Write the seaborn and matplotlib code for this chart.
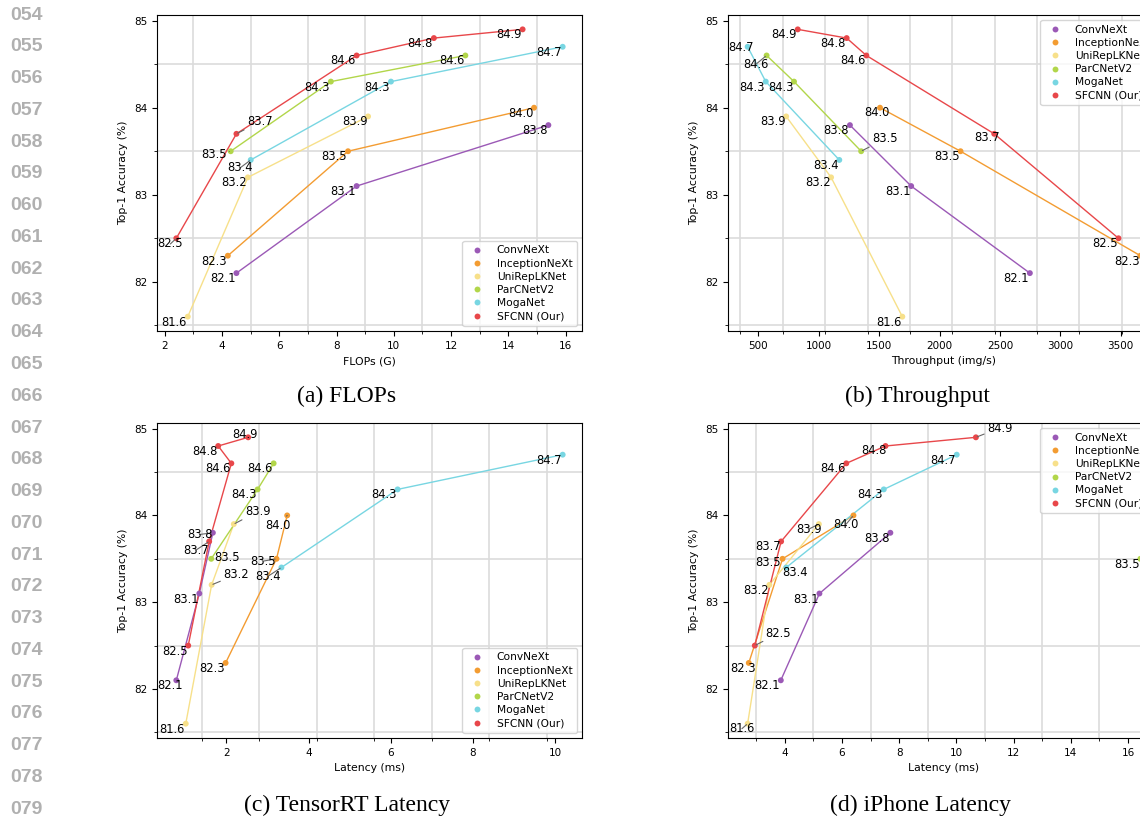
import numpy as np
import pandas as pd
import matplotlib
matplotlib.use('Agg')
import matplotlib.pyplot as plt
from matplotlib.ticker import MultipleLocator
import seaborn as sns

models = ['ConvNeXt', 'InceptionNeXt', 'UniRepLKNet', 'ParCNetV2', 'MogaNet', 'SFCNN (Our)']
colors = ['#9b59b6', '#f39c32', '#f7e08a', '#b2d64a', '#78d6e2', '#e8474a']

# top-1 accuracy, same for every panel
accuracy = {
    'ConvNeXt': [82.1, 83.1, 83.8],
    'InceptionNeXt': [82.3, 83.5, 84.0],
    'UniRepLKNet': [81.6, 83.2, 83.9],
    'ParCNetV2': [83.5, 84.3, 84.6],
    'MogaNet': [83.4, 84.3, 84.7],
    'SFCNN (Our)': [82.5, 83.7, 84.6, 84.8, 84.9],
}
flops = {
    'ConvNeXt': [4.5, 8.7, 15.4],
    'InceptionNeXt': [4.2, 8.4, 14.9],
    'UniRepLKNet': [2.8, 4.9, 9.1],
    'ParCNetV2': [4.3, 7.8, 12.5],
    'MogaNet': [5.0, 9.9, 15.9],
    'SFCNN (Our)': [2.4, 4.5, 8.7, 11.4, 14.5],
}
throughput = {
    'ConvNeXt': [2748, 1765, 1258],
    'InceptionNeXt': [3663, 2174, 1507],
    'UniRepLKNet': [1692, 1102, 730],
    'ParCNetV2': [1351, 795, 568],
    'MogaNet': [1170, 561, 411],
    'SFCNN (Our)': [3482, 2453, 1394, 1231, 826],
}
trt_latency = {
    'ConvNeXt': [0.78, 1.34, 1.67],
    'InceptionNeXt': [1.98, 3.22, 3.48],
    'UniRepLKNet': [1.01, 1.64, 2.18],
    'ParCNetV2': [1.63, 2.76, 3.15],
    'MogaNet': [3.34, 6.17, 10.19],
    'SFCNN (Our)': [1.07, 1.58, 2.12, 1.80, 2.53],
}
iphone_latency = {
    'ConvNeXt': [3.86, 5.21, 7.69],
    'InceptionNeXt': [2.74, 3.92, 6.40],
    'UniRepLKNet': [2.70, 3.46, 5.19],
    'ParCNetV2': [16.43, np.nan, np.nan],
    'MogaNet': [4.05, 7.46, 10.01],
    'SFCNN (Our)': [2.95, 3.87, 6.15, 7.52, 10.68],
}

# label placement: centre offset from point in pixels, and whether a leader line is drawn
default_off = (-13.5, 5.5, False)
offsets_a = {
    ('ParCNetV2', 0): (-17, 3, True),
    ('MogaNet', 0): (-10.7, 8, True),
    ('SFCNN (Our)', 0): (-6, 5.7, True),
    ('SFCNN (Our)', 1): (23.3, -12, True),
}
offsets_b = {
    ('InceptionNeXt', 2): (-3.3, 4.7, False),
    ('ParCNetV2', 2): (-11, 9, True),
    ('ParCNetV2', 0): (23.7, -12.3, True),
    ('MogaNet', 2): (-6.7, 1, False),
    ('SFCNN (Our)', 1): (-6.7, 3.7, False),
}
offsets_c = {
    ('SFCNN (Our)', 4): (-3.7, -3.3, False),
    ('SFCNN (Our)', 1): (-13.3, 8.7, True),
    ('ParCNetV2', 0): (15.7, -1.3, False),
    ('UniRepLKNet', 2): (23.7, -12.3, True),
    ('UniRepLKNet', 1): (24.3, -10, True),
    ('ConvNeXt', 2): (-13.3, 1.7, True),
    ('ConvNeXt', 0): (-6.7, 5.3, False),
    ('InceptionNeXt', 2): (-9.3, 10, True),
    ('InceptionNeXt', 1): (-13.3, 2.3, True),
    ('MogaNet', 0): (-13.3, 8.7, True),
}
offsets_d = {
    ('SFCNN (Our)', 4): (23.7, -9.3, True),
    ('SFCNN (Our)', 3): (-11.5, 4.3, False),
    ('SFCNN (Our)', 0): (23.7, -12.3, True),
    ('InceptionNeXt', 0): (-6, 5.3, False),
    ('InceptionNeXt', 1): (-14.3, 4, False),
    ('InceptionNeXt', 2): (-7.3, 8.7, True),
    ('UniRepLKNet', 0): (-5.7, 5, True),
    ('UniRepLKNet', 2): (-10, 5, True),
    ('MogaNet', 0): (9, 4.7, False),
}

W, H = 1140, 817
fig = plt.figure(figsize=(W / 100, H / 100), dpi=100)
palette = dict(zip(models, colors))


def make_frame(xs):
    rows = []
    for m in models:
        for i, (x, a) in enumerate(zip(xs[m], accuracy[m])):
            if x is None or np.isnan(x):
                continue
            rows.append({'model': m, 'idx': i, 'x': x, 'acc': a})
    return pd.DataFrame(rows)


def panel(rect, xs, xlabel, major, minor, offsets, legend_loc):
    ax = fig.add_axes([rect[0] / W, 1 - rect[3] / H, (rect[2] - rect[0]) / W, (rect[3] - rect[1]) / H])
    df = make_frame(xs)
    sns.lineplot(data=df, x='x', y='acc', hue='model', hue_order=models, palette=palette,
                 sort=False, estimator=None, legend=False, lw=1.0, ax=ax)
    sns.scatterplot(data=df, x='x', y='acc', hue='model', hue_order=models, palette=palette,
                    s=18, edgecolor='none', ax=ax, zorder=3)
    for _, r in df.iterrows():
        dx, dy, leader = offsets.get((r['model'], r['idx']), default_off)
        kw = {}
        if leader:
            kw['arrowprops'] = dict(arrowstyle='-', color='#666666', lw=0.8, shrinkA=0, shrinkB=1)
        ax.annotate(f"{r['acc']:.1f}", (r['x'], r['acc']), xytext=(dx * 0.72, -dy * 0.72),
                    textcoords='offset points', ha='center', va='center', fontsize=8.3, zorder=4, **kw)
    ax.xaxis.set_major_locator(MultipleLocator(major))
    ax.xaxis.set_minor_locator(MultipleLocator(minor))
    ax.yaxis.set_major_locator(MultipleLocator(1))
    ax.yaxis.set_minor_locator(MultipleLocator(0.5))
    ax.grid(which='minor', color='#dcdcdc', lw=1.2)
    ax.grid(which='major', visible=False)
    ax.set_axisbelow(True)
    ax.tick_params(labelsize=7.5)
    ax.set_xlabel(xlabel, fontsize=7.8)
    ax.set_ylabel('Top-1 Accuracy (%)', fontsize=7.8)
    sns.move_legend(ax, legend_loc, title=None, fontsize=7.7, labelspacing=0.3)
    return ax


panel((157, 15, 582, 331), flops, 'FLOPs (G)', 2, 1, offsets_a, 'lower right')
panel((728, 15, 1160, 331), throughput, 'Throughput (img/s)', 500, 351, offsets_b, 'upper right')
panel((157, 423, 582, 738), trt_latency, 'Latency (ms)', 2, 1.4, offsets_c, 'lower right')
panel((728, 423, 1160, 738), iphone_latency, 'Latency (ms)', 2, 1, offsets_d, 'upper right')

captions = ['(a) FLOPs', '(b) Throughput', '(c) TensorRT Latency', '(d) iPhone Latency']
caption_xy = [(347, 396), (917, 396), (347, 805), (920, 805)]
for t, (cx, cy) in zip(captions, caption_xy):
    fig.text(cx / W, 1 - cy / H, t, ha='center', va='center', fontsize=17, family='Liberation Serif')

line_numbers = [f'{n:03d}' for n in range(54, 80)]
for k, t in enumerate(line_numbers):
    fig.text(10 / W, 1 - (15 + 31.77 * k) / H, t, ha='left', va='center', fontsize=14,
             family='Liberation Sans', fontweight='bold', color='#b0b0b0')

fig.savefig('out.png', dpi=100)
